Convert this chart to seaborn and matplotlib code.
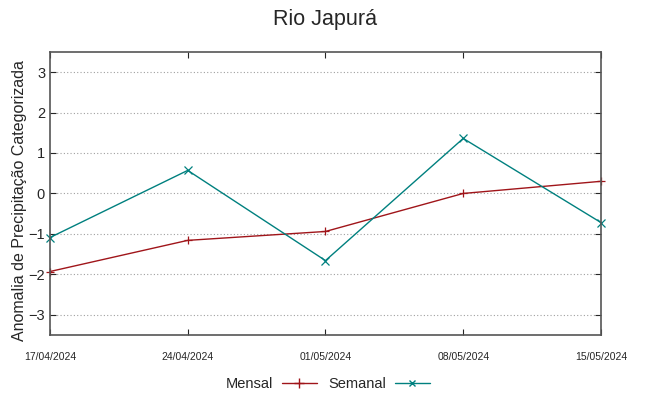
import numpy as np
import pandas as pd
import matplotlib.pyplot as plt
import matplotlib.dates as mdates
from matplotlib.lines import Line2D
import seaborn as sns

# data
dates = ["2024-04-17", "2024-04-24", "2024-05-01", "2024-05-08", "2024-05-15"]
mensal = [-1.93, -1.16, -0.94, 0.0, 0.3]
semanal = [-1.09, 0.57, -1.66, 1.36, -0.72]
y_ticks = [-3, -2, -1, 0, 1, 2, 3]

df = pd.DataFrame({
    "data": pd.to_datetime(dates * 2),
    "valor": mensal + semanal,
    "serie": ["Mensal"] * len(dates) + ["Semanal"] * len(dates),
})

sns.set_style("white")
plt.rcParams['font.family'] = ['Liberation Sans', 'DejaVu Sans']

RED = '#a0151a'
TEAL = '#00807f'

fig = plt.figure(figsize=(6.49, 3.96), dpi=100)
ax = fig.add_axes([0.077, 0.154, 0.849, 0.715])

sns.lineplot(data=df, x="data", y="valor", hue="serie", style="serie",
             palette={"Mensal": RED, "Semanal": TEAL},
             markers={"Mensal": "+", "Semanal": "x"}, dashes=False,
             linewidth=1.0, markersize=6, ax=ax, legend=False)
for ln in ax.lines:
    ln.set_markeredgecolor(ln.get_color())
    ln.set_markeredgewidth(0.9)
    ln.set_clip_on(False)

ax.set_ylim(-3.5, 3.5)
ax.set_yticks(y_ticks)
ax.set_xlim(pd.Timestamp(dates[0]), pd.Timestamp(dates[-1]))
ax.set_xticks(pd.to_datetime(dates))
ax.xaxis.set_major_formatter(mdates.DateFormatter('%d/%m/%Y'))
ax.tick_params(axis='x', labelsize=7.5, direction='in', length=4, top=True, bottom=True, pad=12)
ax.tick_params(axis='y', labelsize=10.5, direction='in', length=4, left=True, right=True)
ax.grid(axis='y', linestyle=(0, (1, 2)), color='#a0a0a0', linewidth=0.8)
ax.set_xlabel('')
ax.set_ylabel('Anomalia de Precipitação Categorizada', fontsize=11.5)
ax.yaxis.set_label_coords(-0.041, 0.475)
for s in ax.spines.values():
    s.set_color('#555555')
    s.set_linewidth(1.2)

ax.set_title('Rio Japurá', fontsize=15.5, pad=19)

# legend below plot
handles = [Line2D([], [], color=RED, marker='+', lw=1, markersize=7),
           Line2D([], [], color=TEAL, marker='x', lw=1, markersize=5)]
fig.legend(handles, ['Mensal', 'Semanal'], loc='lower center', ncol=2,
           frameon=False, fontsize=10.5, handlelength=2.4, markerfirst=False,
           bbox_to_anchor=(0.505, -0.02), columnspacing=0.8, handletextpad=0.6)

plt.savefig('out.png', dpi=100)
plt.close()
